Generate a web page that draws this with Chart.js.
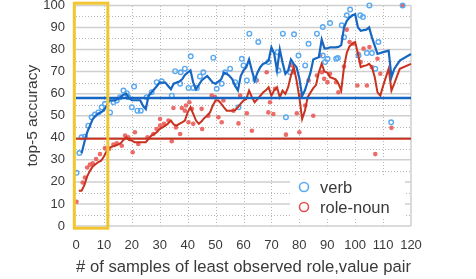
<!DOCTYPE html>
<html><head><meta charset="utf-8">
<script src="https://cdn.jsdelivr.net/npm/chart.js@4/dist/chart.umd.min.js"></script>
<style>html,body{margin:0;padding:0;background:#fff;}</style>
</head><body>
<canvas id="c" width="476" height="279"></canvas>
<script>
// ---------- data ----------
const seriesLabels = ['verb', 'role-noun'];
const xTicks = [0,10,20,30,40,50,60,70,80,90,100,110,120];
const yTicks = [0,10,20,30,40,50,60,70,80,90,100];

const verbPtX = [0.2,1.2,2,3.2,4.4,5.6,6.8,8,9.2,10.4,12.2,13.4,14.6,15.8,17,18.2,18.7,20,20.8,22,23.2,25.3,27.1,28.9,30.7,34.3,35.5,37.3,37.5,39,40.3,41.1,42,43.3,44.4,45.6,49.2,50.4,52.2,53.4,55.2,57,58.2,59.4,60,61.2,62.1,64.2,65.3,68.9,72.2,72.5,74.1,75.2,76.7,78.1,79.7,82.1,83.3,86.3,88.4,88.4,89.2,90.1,91,93.2,93.8,95.2,96,97,98.2,101.2,101.8,102.8,104.2,105.1,106,107.2,108.3,112.9,117];
const verbPtY = [24.1,33.1,40.2,40.5,45.5,49.3,50.5,51.5,53.8,55.4,51.5,56.1,56.9,58.4,61.4,60.2,58.4,53.8,63.2,52.3,52.3,58.4,60.6,65.2,65.6,59.1,70.2,64.5,69.7,71.3,62.6,76.9,62.6,62.6,67.8,69.7,76.3,62.2,64.5,69.7,71.3,65.2,53.8,75.8,72.8,66,87.2,66.3,83.4,74.3,78.8,70.5,87.2,49.3,69.7,86.9,77.3,72.8,82.6,87.2,77.3,90.2,74.3,75.8,92,75.8,76.1,91,85.6,95.5,98.1,77.3,95.5,94.7,78.4,100,78.4,71.3,83.4,47,100];

const nounPtX = [0.2,2.4,3.2,4,5,6,7.2,8.6,10.4,11.9,13.4,14.6,16.4,17.6,18.7,20.3,21.1,22.3,25.6,27.7,28.9,30.1,30.1,31.5,33.1,34.3,34.9,35.8,37.3,37.9,39,39.4,40.3,40.6,41.5,42,45,45.2,47.4,48.6,49.8,51,52.2,52.8,56.4,58.2,58.8,61.2,63,64.8,68.3,68.9,69.5,70.7,71.3,75.2,77.3,77.9,79.1,80,80.3,82.1,83.3,85,86.3,87.5,88.1,88.9,90.1,91,93.2,94,96,97,98,99.4,100.8,101.2,102,103,104.2,105.1,106,107.2,108,109,113,117];
const nounPtY = [11,19.7,22,26.5,27.8,28.4,30.4,32.6,35.3,34.9,36.9,37.5,36.4,41,40.2,33.4,42.5,37.2,40.2,41.7,44,45.5,48.5,46.3,47.8,38.4,53.5,44.7,41.7,53.5,52.3,54.6,47,56.1,53.1,46.3,53.1,44,50,59.1,58.4,49.3,47,56.9,52.3,46.5,59.1,51.1,43.2,66,69.7,51.5,56.1,50.8,62.2,41.4,72.8,69.7,51.1,42.5,59.1,54.6,66,50,68.2,77.3,69.7,66.7,65.2,69,65.2,60.6,72.3,89,83.4,82.6,63.7,78.1,74.3,80.4,63.7,81.1,72,32.6,75.8,69,44.5,100];

const verbLineX = [2,3,4,5,6,7,8,9,10,11,12,13,14,15,16,17,18,19,20,21,22,23,24,25,26,27,28,29,30,31,32,33,34,35,36,37,38,39,40,41,42,43,44,45,46,47,48,49,50,51,52,53,54,55,56,57,58,59,60,61,62,63,64,65,66,67,68,69,70,71,72,73,74,75,76,77,78,79,80,81,82,83,84,85,86,87,88,89,90,91,92,93,94,95,96,97,98,99,100,101,102,103,104,105,106,108,110,112,113,114,116,120];
const verbLineY = [33,38,42.5,45.5,48.5,50,51,51.5,52.5,54.5,57,56.8,57,57.5,58.5,59.5,60,58,57,57,57,57,54.5,53,59,60.5,62,63.5,65,65,65,63.5,62,64.5,65,65.5,66.5,68.5,69.5,70.5,65,62,64,66,67,68,66.5,65,64.5,65.5,66.5,69.5,69,68,66.5,63.5,61.5,68,70.5,72,75.5,70.5,66,69.5,72,73.5,74,75,81,78,70.5,80,74,69,70.5,75.5,73.5,72,67,59,61.5,65.5,69.5,75.5,76,76.5,84.5,80.5,80.5,81,81,81,81.2,82,90,93,94.5,95.5,96,90,88.5,88.8,89,90,85.5,78,78.8,79.5,67.5,71.2,75,78];

const nounLineX = [1,2,3,4,5,6,7,8,9,10,11,12,13,14,15,16,17,18,19,20,21,22,23,24,25,26,27,28,29,30,31,32,33,34,35,36,37,38,39,40,41,42,43,44,45,46,47,48,49,50,51,52,53,54,55,56,57,58,59,60,61,62,63,64,65,66,67,68,69,70,71,72,73,74,75,76,77,78,79,80,81,82,83,84,85,86,87,88,89,90,91,92,93,94,95,96,97,98,99,100,101,102,103,104,105,106,107,108,109,110,111,112,113,114,116,120];
const nounLineY = [16,16,18.5,22.5,25,27,28,29,29.6,31.5,34,35.5,36,36.4,36.9,37.5,39,40.2,39,38.7,38,38,38,38,38,39.5,41,41.8,42.5,44,44.7,45.5,46.5,47.8,46,45.5,46.3,47,47.8,51.5,53.8,50.8,47.8,46.3,47.5,49,50,51.5,54.6,56.9,56.9,55.5,53.8,52.3,52.3,52.3,52.5,53.8,55.5,56.9,57.5,61.4,58.4,56.1,57.5,59,60.5,61.5,62.9,59.1,61.5,62.9,58.4,61.4,59.9,62.9,68.2,72,66,58.4,48.5,52.3,58.4,60.5,62.5,64,69.7,73.5,70,69.5,67.5,67,66.5,64.5,61.4,72,78.5,81.5,82.6,83.4,78.1,72,72.5,72.8,73.5,72,67.5,60.6,59.1,63.5,67.5,71.3,61.4,64.5,71.3,73.5];

const verbMean = 58;
const nounMean = 39.6;
const highlightX = [-0.6, 11.4];   // yellow box, data units
const highlightY = [-1, 101];

// ---------- styles ----------
const C = {
  verbPt: '#5aa9f0', verbLine: '#1767c2',
  nounPt: '#e8524e', nounLine: '#c8321e',
  yellow: '#f2c630', grid: '#cfcfcf', dot: '#b8b8b8', text: '#3a3a3a'
};
const FONT = '"Liberation Sans", Helvetica, Arial, sans-serif';

const zip = (xs, ys) => xs.map((x, i) => ({x, y: ys[i]}));
const hline = (v) => [{x: xTicks[0], y: v}, {x: xTicks[xTicks.length - 1], y: v}];

const gridPlugin = {
  id: 'grid',
  beforeDatasetsDraw(chart) {
    const {ctx, scales: {x, y}} = chart;
    const x0 = x.getPixelForValue(xTicks[0]), x1 = x.getPixelForValue(xTicks[xTicks.length-1]);
    const y0 = y.getPixelForValue(yTicks[0]), y1 = y.getPixelForValue(yTicks[yTicks.length-1]);
    ctx.save();
    ctx.strokeStyle = C.dot; ctx.lineWidth = 1; ctx.setLineDash([1, 2]);
    for (let i = 0; i < yTicks.length - 1; i++) {
      const py = Math.round(y.getPixelForValue((yTicks[i] + yTicks[i+1]) / 2)) + 0.5;
      ctx.beginPath(); ctx.moveTo(x0, py); ctx.lineTo(x1, py); ctx.stroke();
    }
    for (let i = 1; i < xTicks.length - 1; i++) {
      const px = Math.round(x.getPixelForValue(xTicks[i])) + 0.5;
      ctx.beginPath(); ctx.moveTo(px, y0); ctx.lineTo(px, y1); ctx.stroke();
    }
    ctx.setLineDash([]);
    ctx.strokeStyle = C.grid; ctx.lineWidth = 1.5;
    yTicks.forEach(v => {
      const py = y.getPixelForValue(v);
      ctx.beginPath(); ctx.moveTo(x0, py); ctx.lineTo(x1, py); ctx.stroke();
    });
    ctx.beginPath(); ctx.moveTo(x1, y0); ctx.lineTo(x1, y1); ctx.stroke();
    ctx.restore();
  },
  afterDatasetsDraw(chart) {
    const {ctx, scales: {x, y}} = chart;
    ctx.save();
    const bx0 = x.getPixelForValue(highlightX[0]), bx1 = x.getPixelForValue(highlightX[1]);
    const by0 = y.getPixelForValue(highlightY[1]), by1 = y.getPixelForValue(highlightY[0]);
    ctx.strokeStyle = C.yellow; ctx.lineWidth = 3;
    ctx.strokeRect(bx0, by0, bx1 - bx0, by1 - by0);
    const lx = 290, ly = 176;
    ctx.fillStyle = '#fff';
    ctx.fillRect(lx, ly, 115, 42);
    const items = [[seriesLabels[0], C.verbPt], [seriesLabels[1], C.nounPt]];
    ctx.font = '16.5px ' + FONT; ctx.textBaseline = 'middle'; ctx.textAlign = 'left';
    items.forEach(([t, col], i) => {
      const cy = ly + 11 + i * 20;
      ctx.beginPath(); ctx.arc(lx + 14, cy, 4.5, 0, Math.PI * 2);
      ctx.strokeStyle = col; ctx.lineWidth = 1.6; ctx.stroke();
      ctx.fillStyle = C.text; ctx.fillText(t, lx + 30, cy + 1);
    });
    ctx.restore();
  }
};

new Chart(document.getElementById('c'), {
  type: 'scatter',
  data: {
    datasets: [
      {type: 'line', data: hline(verbMean), borderColor: C.verbLine, borderWidth: 2.5, pointRadius: 0, clip: false},
      {type: 'line', data: hline(nounMean), borderColor: C.nounLine, borderWidth: 2, pointRadius: 0, clip: false},
      {type: 'line', label: seriesLabels[0], data: zip(verbLineX, verbLineY), borderColor: C.verbLine, borderWidth: 2.2, pointRadius: 0, tension: 0, clip: false},
      {type: 'line', label: seriesLabels[1], data: zip(nounLineX, nounLineY), borderColor: C.nounLine, borderWidth: 2, pointRadius: 0, tension: 0, clip: false},
      {label: seriesLabels[0], data: zip(verbPtX, verbPtY), borderColor: C.verbPt, backgroundColor: 'rgba(255,255,255,0)', borderWidth: 1.4, pointRadius: 2.3, clip: false},
      {label: seriesLabels[1], data: zip(nounPtX, nounPtY), borderColor: 'rgba(232,82,78,0.85)', backgroundColor: 'rgba(232,82,78,0.85)', borderWidth: 0, pointRadius: 2.3, clip: false}
    ]
  },
  options: {
    responsive: false, animation: false, devicePixelRatio: 1,
    layout: {padding: {left: 0, right: 65, top: 4, bottom: 0}},
    plugins: {legend: {display: false}, tooltip: {enabled: false}},
    scales: {
      x: {
        type: 'linear', min: xTicks[0], max: xTicks[xTicks.length-1],
        afterBuildTicks: s => { s.ticks = xTicks.map(v => ({value: v})); },
        afterFit: s => { s.height = 53; s.paddingLeft = 0; s.paddingRight = 0; },
        grid: {display: false}, border: {display: false},
        ticks: {color: C.text, font: {family: FONT, size: 13}, padding: 4, maxRotation: 0},
        title: {display: true, text: '# of samples of least observed role,value pair', color: C.text,
                font: {family: FONT, size: 16.8}, padding: {top: 0, bottom: 2}}
      },
      y: {
        type: 'linear', min: yTicks[0], max: yTicks[yTicks.length-1],
        afterBuildTicks: s => { s.ticks = yTicks.map(v => ({value: v})); },
        afterFit: s => { s.width = 76; s.paddingTop = 0; s.paddingBottom = 0; },
        grid: {display: false}, border: {display: false},
        ticks: {color: C.text, font: {family: FONT, size: 13}, padding: 3},
        title: {display: true, text: 'top-5 accuracy', color: C.text,
                font: {family: FONT, size: 15.5}, padding: {top: 23, bottom: 0}}
      }
    }
  },
  plugins: [gridPlugin]
});
</script>
</body></html>
